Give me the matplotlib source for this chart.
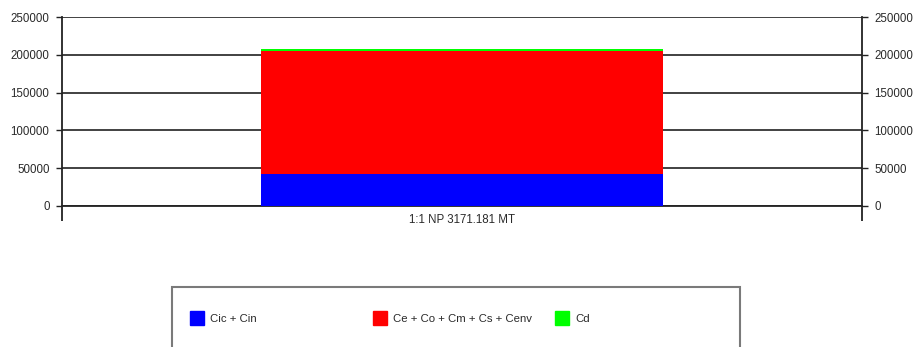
import matplotlib
matplotlib.use("Agg")
import matplotlib.pyplot as plt
from matplotlib.patches import Rectangle, Patch

plt.rcParams['font.family'] = ['Liberation Sans', 'DejaVu Sans']

categories = ["1:1 NP 3171.181 MT"]
series_names = ["Cic + Cin", "Ce + Co + Cm + Cs + Cenv", "Cd"]
cic_cin = [42300]
ce_co_cm_cs_cenv = [163200]
cd = [2000]
colors = ["#0000FF", "#FF0000", "#00FF00"]
yticks = [0, 50000, 100000, 150000, 200000, 250000]

W, H = 918, 347
fig = plt.figure(figsize=(W/100, H/100), dpi=100)
ax = fig.add_axes([62/W, 1-206/H, 800/W, 189/H])

x = list(range(len(categories)))
bottom = [0]*len(categories)
for vals, col, name in zip([cic_cin, ce_co_cm_cs_cenv, cd], colors, series_names):
    ax.bar(x, vals, width=0.503, bottom=bottom, color=col, label=name, zorder=3)
    bottom = [b+v for b, v in zip(bottom, vals)]

ax.set_xlim(-0.5, 0.5)
ax.set_ylim(0, 250000)
ax.set_yticks(yticks)
ax.set_yticklabels([str(t) for t in yticks])
for t in yticks:
    ax.axhline(t, color='#333333', lw=1.3, zorder=1)

ax.spines['top'].set_visible(False)
for s in ['left', 'right', 'bottom']:
    ax.spines[s].set_color('#222222')
    ax.spines[s].set_linewidth(1.3)

ax.tick_params(axis='y', which='both', left=True, right=True, labelleft=True, labelright=True,
               length=4, width=1, color='#222222', labelsize=8.3, labelcolor='#2a2a2a', pad=5)
ax.set_xticks(x)
ax.set_xticklabels(categories, fontsize=8.3, color='#2a2a2a')
ax.tick_params(axis='x', which='major', length=0, pad=6)
ax.set_xticks([-0.5, 0.5], minor=True)
ax.tick_params(axis='x', which='minor', length=11, width=1.3, color='#222222', direction='out')

# legend frame (extends past the bottom edge)
fig.patches.append(Rectangle((172/W, -0.1), (740-172)/W, (347-287)/H + 0.1,
                             transform=fig.transFigure, facecolor='white',
                             edgecolor='#7a7a7a', lw=1.5, zorder=0))
ycen = 1 - 318/H
xs = [184, 367, 549]
for name, col, xp in zip(series_names, colors, xs):
    fig.legend(handles=[Patch(facecolor=col, edgecolor=col)], labels=[name],
               loc='center left', bbox_to_anchor=(xp/W, ycen), frameon=False,
               fontsize=8.2, handlelength=1.25, handleheight=1.55, handletextpad=0.55,
               borderpad=0, labelcolor='#2a2a2a')

fig.savefig("out.png", dpi=100)
